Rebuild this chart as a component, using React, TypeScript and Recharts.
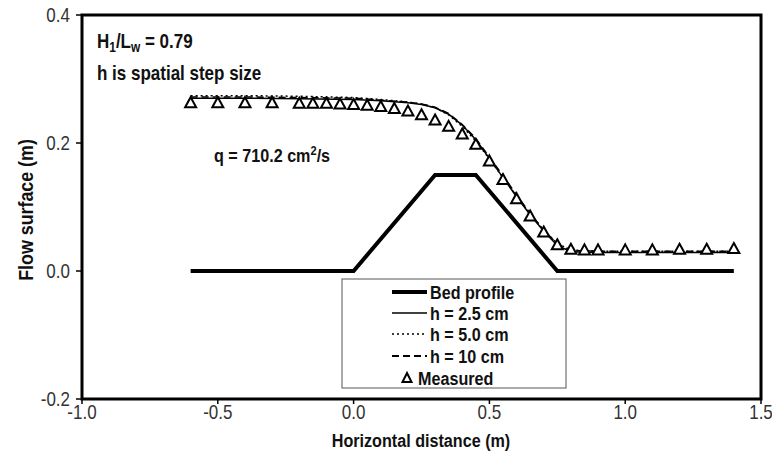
import { ComposedChart, Line, Scatter, XAxis, YAxis, ReferenceArea } from "recharts";

const FONT = '"Liberation Sans", Arial, sans-serif';
const SQ = 0.85; // the original lettering is condensed

const xTicks = [-1.0, -0.5, 0, 0.5, 1.0, 1.5];
const yTicks = [-0.2, 0, 0.2, 0.4];

// bed profile (trapezoidal weir)
const bedX = [-0.6, 0, 0.3, 0.45, 0.75, 1.4];
const bedY = [0, 0, 0.15, 0.15, 0, 0];

// simulated flow surface for three step sizes
const simX = [-0.6, -0.4, -0.2, 0, 0.1, 0.2, 0.25, 0.3, 0.35, 0.4, 0.45, 0.5, 0.55, 0.6, 0.65, 0.7, 0.75, 0.8, 0.9, 1.0, 1.2, 1.4];
const simH25 = [0.27, 0.27, 0.269, 0.268, 0.266, 0.263, 0.26, 0.255, 0.245, 0.228, 0.205, 0.176, 0.146, 0.116, 0.088, 0.062, 0.04, 0.03, 0.029, 0.029, 0.029, 0.029];
const simH50 = [0.274, 0.274, 0.273, 0.271, 0.268, 0.264, 0.261, 0.255, 0.244, 0.226, 0.203, 0.175, 0.146, 0.117, 0.089, 0.064, 0.043, 0.033, 0.031, 0.031, 0.031, 0.031];
const simH10 = [0.272, 0.272, 0.271, 0.27, 0.267, 0.264, 0.261, 0.256, 0.246, 0.229, 0.207, 0.178, 0.149, 0.119, 0.09, 0.064, 0.042, 0.032, 0.031, 0.031, 0.031, 0.031];

// measured surface
const measX = [-0.6, -0.5, -0.4, -0.3, -0.2, -0.15, -0.1, -0.05, 0, 0.05, 0.1, 0.15, 0.2, 0.25, 0.3, 0.35, 0.4, 0.45, 0.5, 0.55, 0.6, 0.65, 0.7, 0.75, 0.8, 0.85, 0.9, 1.0, 1.1, 1.2, 1.3, 1.4];
const measY = [0.263, 0.263, 0.263, 0.263, 0.262, 0.262, 0.262, 0.261, 0.26, 0.259, 0.257, 0.254, 0.25, 0.244, 0.236, 0.226, 0.214, 0.198, 0.172, 0.143, 0.113, 0.086, 0.061, 0.041, 0.034, 0.033, 0.033, 0.033, 0.033, 0.034, 0.034, 0.035];

const zip = (xs: number[], ys: number[]) => xs.map((x, i) => ({ x, y: ys[i] }));

const bed = zip(bedX, bedY);
const h25 = zip(simX, simH25);
const h50 = zip(simX, simH50);
const h10 = zip(simX, simH10);
const measured = zip(measX, measY);

const Triangle = (props: any) => {
  const { cx, cy } = props;
  if (cx == null || cy == null) return null;
  return (
    <path
      d={`M${cx},${cy - 5.5} L${cx + 5.5},${cy + 4.5} L${cx - 5.5},${cy + 4.5} Z`}
      fill="#fff"
      stroke="#000"
      strokeWidth={2}
    />
  );
};

// condensed text helper
const T = ({ x, y, size, bold, anchor, rotate, children }: any) => (
  <g transform={`translate(${x},${y})${rotate ? ` rotate(${rotate})` : ""} scale(${SQ},1)`}>
    <text
      x={0}
      y={0}
      fontSize={size}
      fontWeight={bold ? "bold" : "normal"}
      textAnchor={anchor || "start"}
      fill="#111"
      fontFamily={FONT}
    >
      {children}
    </text>
  </g>
);

const XTick = (props: any) => {
  const { x, y, payload } = props;
  return (
    <g transform={`translate(${x},${y + 13}) scale(${SQ},1)`}>
      <text x={0} y={0} fontSize={20} textAnchor="middle" fill="#333" fontFamily={FONT}>
        {Number(payload.value).toFixed(1)}
      </text>
    </g>
  );
};

const YTick = (props: any) => {
  const { x, y, payload } = props;
  return (
    <g transform={`translate(${x},${y + 7}) scale(${SQ},1)`}>
      <text x={0} y={0} fontSize={20} textAnchor="end" fill="#333" fontFamily={FONT}>
        {Number(payload.value).toFixed(1)}
      </text>
    </g>
  );
};

function Overlay() {
  const rows = [292, 313, 334, 356, 378];
  return (
    <svg width={772} height={473} style={{ position: "absolute", left: 0, top: 0, pointerEvents: "none" }}>
      <T x={97} y={48} size={20} bold>
        H<tspan fontSize={14} dy={4}>1</tspan>
        <tspan dy={-4}>/L</tspan>
        <tspan fontSize={14} dy={4}>w</tspan>
        <tspan dy={-4}> = 0.79</tspan>
      </T>
      <T x={97} y={80} size={20} bold>
        h is spatial step size
      </T>
      <T x={214} y={162} size={19} bold>
        q = 710.2 cm<tspan fontSize={13} dy={-7}>2</tspan>
        <tspan dy={7}>/s</tspan>
      </T>

      {/* legend */}
      <rect x={342} y={279} width={224} height={109} fill="#fff" stroke="#555" strokeWidth={1} />
      <line x1={392} x2={427} y1={rows[0]} y2={rows[0]} stroke="#000" strokeWidth={4} />
      <line x1={392} x2={427} y1={rows[1]} y2={rows[1]} stroke="#000" strokeWidth={1.5} />
      <line x1={392} x2={427} y1={rows[2]} y2={rows[2]} stroke="#000" strokeWidth={1.5} strokeDasharray="2 3" />
      <line x1={392} x2={427} y1={rows[3]} y2={rows[3]} stroke="#000" strokeWidth={2} strokeDasharray="7 4" />
      <path
        d={`M407,${rows[4] - 5} L411.5,${rows[4] + 4} L402.5,${rows[4] + 4} Z`}
        fill="#fff"
        stroke="#000"
        strokeWidth={2}
      />
      {["Bed profile", "h = 2.5 cm", "h = 5.0 cm", "h = 10 cm"].map((t, i) => (
        <T key={t} x={430} y={rows[i] + 7} size={19} bold>
          {t}
        </T>
      ))}
      <T x={418} y={rows[4] + 7} size={19} bold>
        Measured
      </T>

      {/* axis titles */}
      <T x={421} y={447} size={19} bold anchor="middle">
        Horizontal distance (m)
      </T>
      <T x={33} y={210} size={21} bold anchor="middle" rotate={-90}>
        Flow surface (m)
      </T>
    </svg>
  );
}

export default function App() {
  return (
    <div style={{ position: "relative", width: 772, height: 473, background: "#fff" }}>
      <style>{`body{margin:0}`}</style>
      <ComposedChart width={772} height={473} margin={{ top: 15, right: 11, bottom: 0, left: 0 }}>
        <XAxis
          type="number"
          dataKey="x"
          domain={[-1, 1.5]}
          ticks={xTicks}
          height={74}
          axisLine={false}
          tickSize={5}
          tickMargin={2}
          tickLine={{ stroke: "#000", strokeWidth: 1.5 }}
          tick={<XTick />}
          allowDataOverflow
        />
        <YAxis
          type="number"
          dataKey="y"
          domain={[-0.2, 0.4]}
          ticks={yTicks}
          width={82}
          axisLine={false}
          tickSize={6}
          tickMargin={6}
          tickLine={{ stroke: "#000", strokeWidth: 1.5 }}
          tick={<YTick />}
          allowDataOverflow
        />
        <Line data={bed} dataKey="y" type="linear" stroke="#000" strokeWidth={4} dot={false} isAnimationActive={false} />
        <Line data={h25} dataKey="y" type="linear" stroke="#000" strokeWidth={1.5} dot={false} isAnimationActive={false} />
        <Line data={h50} dataKey="y" type="linear" stroke="#000" strokeWidth={1.5} strokeDasharray="2 3" dot={false} isAnimationActive={false} />
        <Line data={h10} dataKey="y" type="linear" stroke="#000" strokeWidth={1.5} strokeDasharray="7 4" dot={false} isAnimationActive={false} />
        <Scatter data={measured} dataKey="y" shape={Triangle} isAnimationActive={false} />
        <ReferenceArea x1={-1} x2={1.5} y1={-0.2} y2={0.4} fill="none" stroke="#000" strokeWidth={3} ifOverflow="visible" />
      </ComposedChart>
      <Overlay />
    </div>
  );
}
